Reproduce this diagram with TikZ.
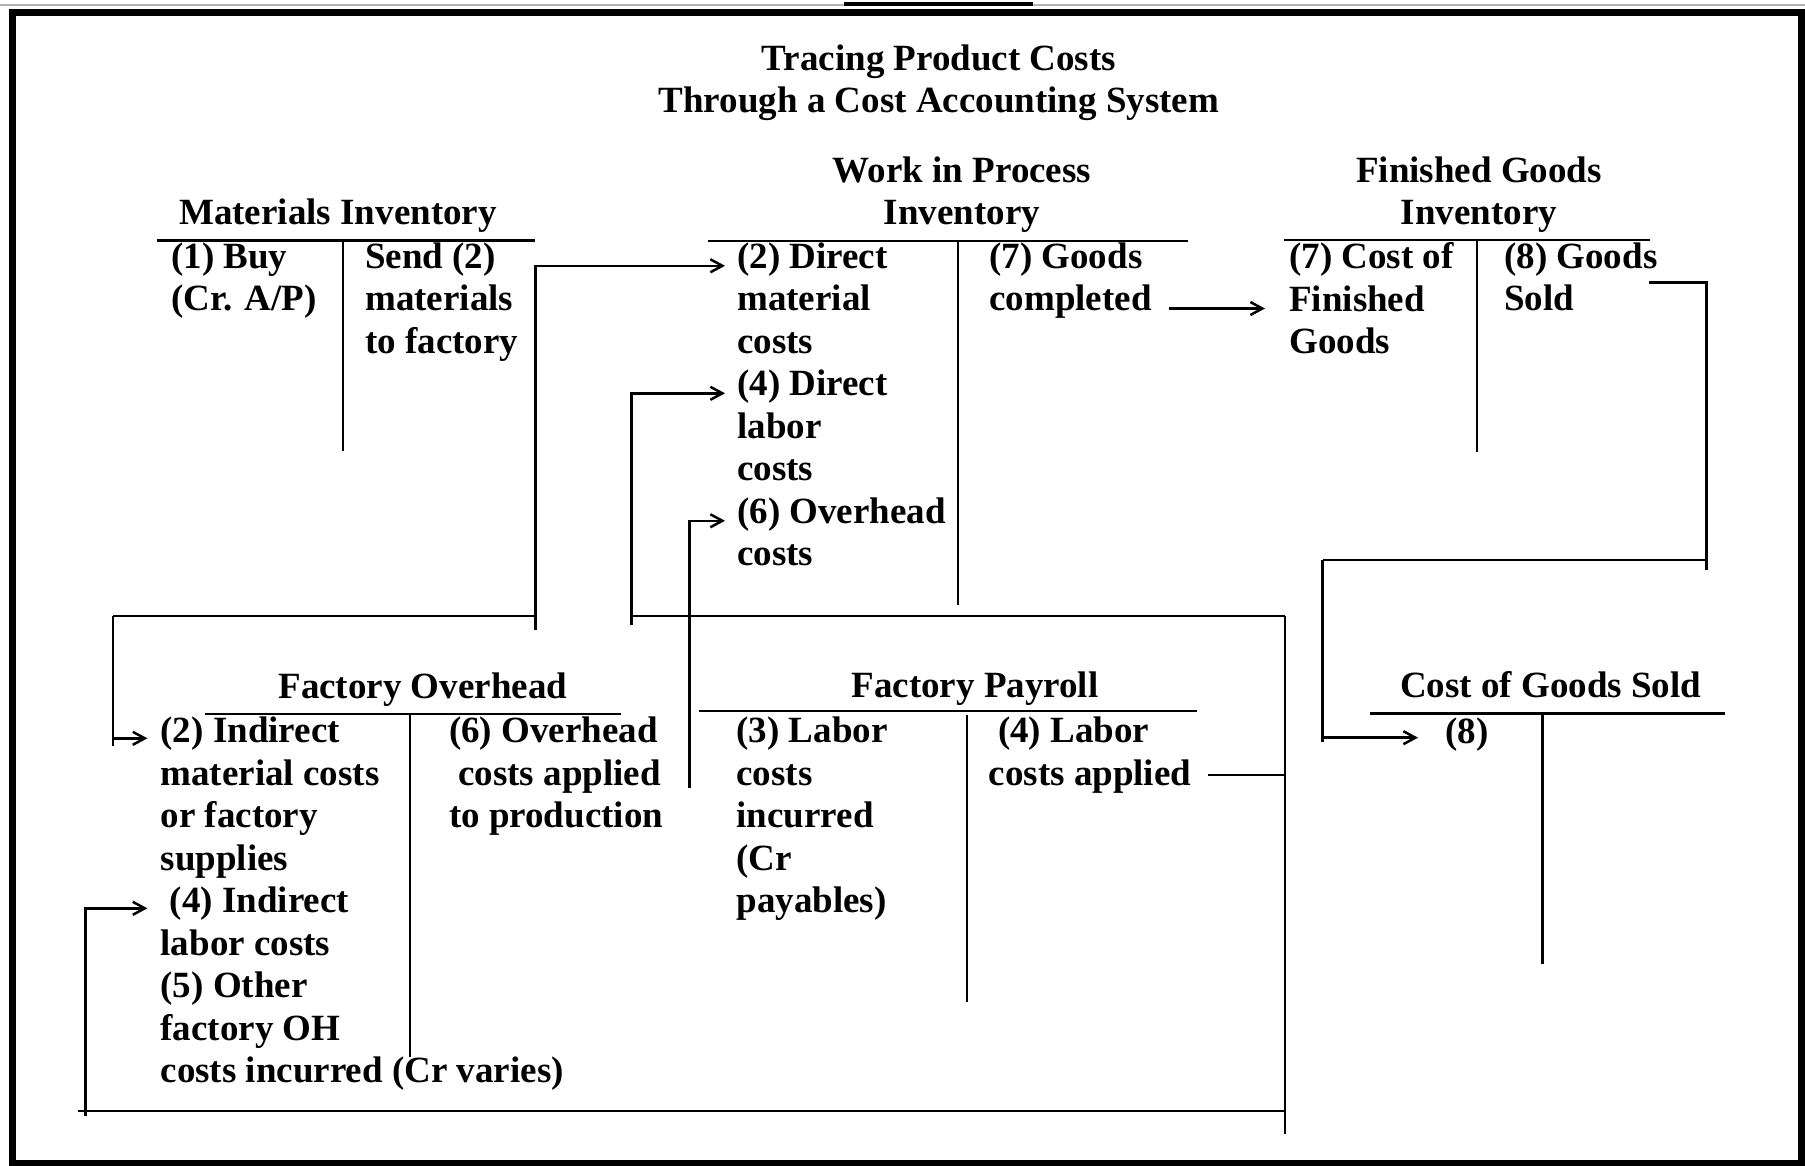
\documentclass[tikz,border=0pt]{standalone}
\usepackage{fontspec}
\setmainfont{Liberation Serif}
\usetikzlibrary{arrows.meta}

\begin{document}
\begin{tikzpicture}[x=0.5pt,y=-0.5pt,line width=1.25pt,
   every node/.style={font=\fontsize{18.5}{21.25}\selectfont\bfseries,inner sep=0pt},
   acct/.style={anchor=north west,align=left},
   head/.style={anchor=base},
   head2/.style={anchor=south,align=center},
   flow/.style={-{Straight Barb[length=6pt,width=6.5pt]}}]
   \useasboundingbox (0,0) rectangle (1805,1166);
   %frame
   \draw[gray!60,line width=0.8pt] (0,5) -- (1805,5);
   \fill (844,2) rectangle (1033,6);
   \draw[line width=3.5pt] (12,13) rectangle (1801,1163);
   %title
   \node[head2] (title) at (939,122) {Tracing Product Costs\\Through a Cost Accounting System};
   %materials inventory
   \node[head] (mat) at (338,225) {Materials Inventory};
   \draw (156.6,240.6) -- (535.3,240.6);
   \draw (343,241) -- (343,451);
   \node[acct] (matdr) at (170,241.3) {(1) Buy\\(Cr. A/P)};
   \node[acct] (matcr) at (364,241.3) {Send (2)\\materials\\to factory};
   %work in process
   \node[head2] (wip) at (962,234) {Work in Process\\Inventory};
   \draw (708,241) -- (1188,241);
   \draw (958,241) -- (958,605);
   \node[acct] (wipdm) at (736,241.3) {(2) Direct\\material\\costs};
   \node[acct] (wipdl) at (736,368.8) {(4) Direct\\labor\\costs};
   \node[acct] (wipoh) at (736,496.3) {(6) Overhead\\costs};
   \node[acct] (wipcr) at (988,241.3) {(7) Goods\\completed};
   %finished goods
   \node[head2] (fg) at (1479,234) {Finished Goods\\Inventory};
   \draw (1284,240) -- (1650,240);
   \draw (1477,241) -- (1477,452);
   \node[acct] (fgdr) at (1288,241.3) {(7) Cost of\\Finished\\Goods};
   \node[acct] (fgcr) at (1503,241.3) {(8) Goods\\Sold};
   %factory overhead
   \node[head] (foh) at (422.8,698) {Factory Overhead};
   \draw (204.5,714) -- (621.4,714);
   \draw (409.8,714) -- (409.8,1057);
   \node[acct] (fohim) at (159.4,715.8) {(2) Indirect\\material costs\\or factory\\supplies};
   \node[acct] (fohil) at (159.4,885.8) {\hspace*{.25em}(4) Indirect\\labor costs};
   \node[acct] (fohot) at (159.4,970.8) {(5) Other\\factory OH\\costs incurred (Cr varies)};
   \node[acct] (fohcr) at (447.8,715.8) {(6) Overhead\\\hspace*{.25em}costs applied\\to production};
   %factory payroll
   \node[head] (fp) at (975,697) {Factory Payroll};
   \draw (699,711) -- (1197,711);
   \draw (967,715) -- (967,1002);
   \node[acct] (fpdr) at (735.3,715.8) {(3) Labor\\costs\\incurred\\(Cr\\payables)};
   \node[acct] (fpcr) at (987.5,715.8) {\hspace*{.25em}(4) Labor\\costs applied};
   %cost of goods sold
   \node[head] (cogs) at (1550.6,697.5) {Cost of Goods Sold};
   \draw (1370,713.6) -- (1725,713.6);
   \draw (1542.7,714) -- (1542.7,963.5);
   \node[acct] (cogsdr) at (1444,717) {(8)};
   %arrow ends
   \coordinate (wipdm-in) at ([xshift=-5.5pt,yshift=-12.25pt]wipdm.north west);
   \coordinate (wipdl-in) at ([xshift=-5.5pt,yshift=-12.25pt]wipdl.north west);
   \coordinate (wipoh-in) at ([xshift=-5.5pt,yshift=-12.25pt]wipoh.north west);
   \coordinate (fohim-in) at ([xshift=-6pt,yshift=-11.25pt]fohim.north west);
   \coordinate (fohil-in) at ([xshift=-6pt,yshift=-11.25pt]fohil.north west);
   \coordinate (fgdr-in) at ([xshift=-11.5pt,yshift=-33.6pt]fgdr.north west);
   \coordinate (cogsdr-in) at ([xshift=-13pt,yshift=-10.35pt]cogsdr.north west);
   \coordinate (fp4) at (1208,775);
   \coordinate (fg8) at (1649,282.7);
   %(2) materials
   \draw[flow] (535.7,630) |- (wipdm-in);
   \draw (535.7,616) -- (113,616);
   \draw[flow] (113,616) |- (fohim-in);
   \draw (113,738) -- (113,745.5);
   %(4) labor
   \draw (fp4) -- (1285,775);
   \draw (1285,616) -- (1285,1133.5);
   \draw (1285,616) -- (631.7,616);
   \draw[flow] (631.7,625) |- (wipdl-in);
   \draw (78,1111) -- (1285,1111);
   \draw[flow] (85.7,1116) |- (fohil-in);
   %(6) overhead
   \draw[flow] (689.5,788) |- (wipoh-in);
   %(7) completed
   \draw[flow,shorten <=8pt] (fgdr-in -| wipcr.east) -- (fgdr-in);
   %(8) sold
   \draw (fg8) -- (1706.6,282.7) -- (1706.6,570);
   \draw (1706.6,560) -- (1322.6,560);
   \draw[flow] (1322.6,560) |- (cogsdr-in);
   \draw (1322.6,737) -- (1322.6,741.5);
\end{tikzpicture}
\end{document}
